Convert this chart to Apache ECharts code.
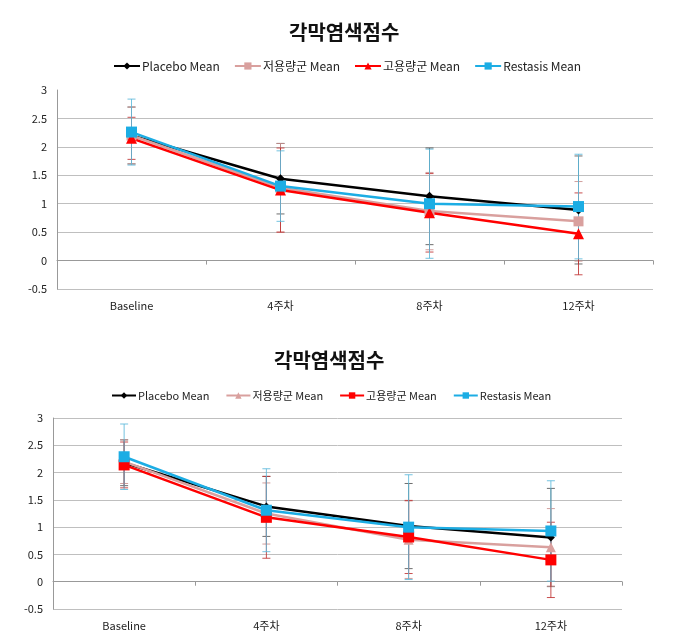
<!DOCTYPE html>
<html><head><meta charset="utf-8">
<script src="https://cdn.jsdelivr.net/npm/echarts@6/dist/echarts.min.js"></script>
<style>html,body{margin:0;padding:0;background:#fff}#c{width:689px;height:642px}</style>
</head><body><div id="c"></div>
<script>
const categories = ['Baseline', '4주차', '8주차', '12주차'];
const seriesNames = ['Placebo Mean', '저용량군 Mean', '고용량군 Mean', 'Restasis Mean'];
const titleText = '각막염색점수';

// top chart
const topPlacebo = [2.20, 1.44, 1.13, 0.89];
const topLow = [2.20, 1.28, 0.87, 0.69];
const topHigh = [2.15, 1.24, 0.84, 0.47];
const topRestasis = [2.26, 1.31, 1.00, 0.95];
const topPlaceboErr = [0.50, 0.62, 0.85, 0.95];
const topLowErr = [0.50, 0.78, 0.68, 0.70];
const topHighErr = [0.37, 0.74, 0.69, 0.72];
const topRestasisErr = [0.58, 0.62, 0.96, 0.92];

// bottom chart
const botPlacebo = [2.18, 1.38, 1.02, 0.81];
const botLow = [2.20, 1.25, 0.77, 0.63];
const botHigh = [2.14, 1.18, 0.82, 0.40];
const botRestasis = [2.29, 1.31, 1.00, 0.93];
const botPlaceboErr = [0.42, 0.55, 0.78, 0.90];
const botLowErr = [0.40, 0.56, 0.71, 0.71];
const botHighErr = [0.42, 0.75, 0.67, 0.69];
const botRestasisErr = [0.60, 0.76, 0.96, 0.92];

const colors = ['#000000', '#D9A09E', '#FF0000', '#1CADE4'];
const topSymbols = ['diamond', 'rect', 'triangle', 'rect'];
const botSymbols = ['diamond', 'triangle', 'rect', 'rect'];
const topSizes = [9, 10, 11, 11];
const botSizes = [8, 10, 11, 11];

const chart = echarts.init(document.getElementById('c'));

function errData(means, errs) {
  return means.map((m, i) => [i, m - errs[i], m + errs[i]]);
}
function errSeries(idx, means, errs, color) {
  return {
    type: 'custom', xAxisIndex: idx, yAxisIndex: idx, z: 1, silent: true,
    data: errData(means, errs),
    renderItem: function (params, api) {
      const x = api.value(0);
      const lo = api.coord([x, api.value(1)]);
      const hi = api.coord([x, api.value(2)]);
      const w = 4;
      const st = { stroke: color, lineWidth: 1, opacity: 0.85 };
      return {
        type: 'group', children: [
          { type: 'line', shape: { x1: lo[0], y1: lo[1], x2: hi[0], y2: hi[1] }, style: st },
          { type: 'line', shape: { x1: lo[0] - w, y1: lo[1], x2: lo[0] + w, y2: lo[1] }, style: st },
          { type: 'line', shape: { x1: hi[0] - w, y1: hi[1], x2: hi[0] + w, y2: hi[1] }, style: st }
        ]
      };
    }
  };
}
function lineSeries(idx, name, data, color, symbol, size) {
  return {
    type: 'line', name: name, xAxisIndex: idx, yAxisIndex: idx, z: 3,
    data: data, symbol: symbol, symbolSize: size,
    lineStyle: { color: color, width: 2.5 }, itemStyle: { color: color },
    emphasis: { disabled: true }
  };
}

const topMeans = [topPlacebo, topLow, topHigh, topRestasis];
const topErrs = [topPlaceboErr, topLowErr, topHighErr, topRestasisErr];
const botMeans = [botPlacebo, botLow, botHigh, botRestasis];
const botErrs = [botPlaceboErr, botLowErr, botHighErr, botRestasisErr];
const botNames = seriesNames.map(n => n + ' ');

const series = [];
const errColors = ['#555555', '#C98E8C', '#C03030', '#5CB8DA'];
for (let i = 0; i < 4; i++) series.push(errSeries(0, topMeans[i], topErrs[i], errColors[i]));
for (let i = 0; i < 4; i++) series.push(errSeries(1, botMeans[i], botErrs[i], errColors[i]));
for (let i = 0; i < 4; i++) series.push(lineSeries(0, seriesNames[i], topMeans[i], colors[i], topSymbols[i], topSizes[i]));
for (let i = 0; i < 4; i++) series.push(lineSeries(1, botNames[i], botMeans[i], colors[i], botSymbols[i], botSizes[i]));

const fontFam = '"Noto Sans CJK KR", "Noto Sans", sans-serif';
function xAx(idx) {
  return {
    type: 'category', gridIndex: idx, data: categories, boundaryGap: true,
    axisLine: { lineStyle: { color: '#999999', width: 1 } },
    axisTick: { show: true, length: 4, lineStyle: { color: '#999999' } },
    axisLabel: { color: '#222', fontSize: 11, fontFamily: fontFam, margin: 11 }
  };
}
function yAx(idx, gridColors) {
  return {
    type: 'value', gridIndex: idx, min: -0.5, max: 3, interval: 0.5,
    axisLine: { show: true, lineStyle: { color: '#999999' } },
    axisTick: { show: false },
    axisLabel: { color: '#222', fontSize: 11, fontFamily: fontFam, margin: 10 },
    splitLine: { show: true, lineStyle: { color: gridColors, width: 1 } }
  };
}
const g = '#BFBFBF';

chart.setOption({
  animation: false,
  backgroundColor: '#fff',
  title: [
    { text: titleText, left: 284, top: 17, textStyle: { fontSize: 20, fontWeight: 'bold', color: '#111', fontFamily: fontFam } },
    { text: titleText, left: 269, top: 345, textStyle: { fontSize: 20, fontWeight: 'bold', color: '#111', fontFamily: fontFam } }
  ],
  legend: [
    { data: seriesNames, top: 55, left: 108, itemWidth: 26, itemHeight: 9, itemGap: 14,
      textStyle: { fontSize: 12, color: '#222', fontFamily: fontFam, padding: [0, 0, 0, -3] }, selectedMode: false },
    { data: botNames, top: 385, left: 106, itemWidth: 24, itemHeight: 8, itemGap: 16,
      formatter: n => n.trim(),
      textStyle: { fontSize: 11, color: '#222', fontFamily: fontFam, padding: [0, 0, 0, -3] }, selectedMode: false }
  ],
  grid: [
    { left: 57, right: 36, top: 90, height: 199 },
    { left: 53, right: 67, top: 418, height: 191 }
  ],
  xAxis: [xAx(0), xAx(1)],
  yAxis: [
    yAx(0, [g, g, g, g, g, g, g, 'rgba(0,0,0,0)']),
    yAx(1, [g])
  ],
  series: series
});
</script></body></html>
